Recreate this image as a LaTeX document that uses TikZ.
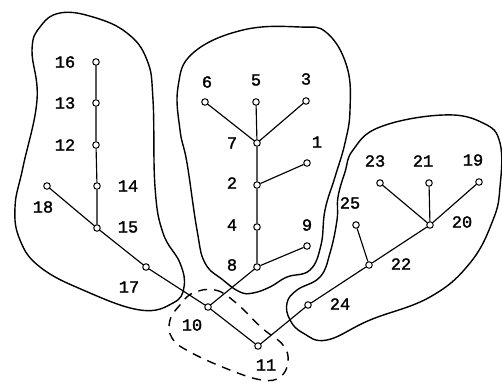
\documentclass[tikz,border=0pt]{standalone}
\usepackage{fontspec}
\setmonofont[FakeBold=1.6]{Liberation Mono}
\begin{document}
\begin{tikzpicture}[x=1pt,y=-1pt,
  v/.style={circle,draw,fill=white,inner sep=0pt,minimum size=6.5pt,line width=1pt},
  lab/.style={font=\ttfamily\fontsize{17}{17}\selectfont,inner sep=0pt},
  edge/.style={line width=1.15pt},
  blob/.style={line width=1.4pt},
  dblob/.style={line width=1.4pt,dash pattern=on 9pt off 7pt}]
\useasboundingbox (0,0) rectangle (502,382);
% blobs
\draw[blob] plot[smooth cycle,tension=0.7] coordinates {(60,13) (93,17) (127,33) (147,60) (153,100) (155,187) (163,233) (180,263) (184,287) (173,303) (140,310) (83,290) (40,267) (20,240) (15,207) (23,167) (37,100) (32,50) (40,27)};
\draw[blob] plot[smooth cycle,tension=0.7] coordinates {(178,87) (193,53) (243,30) (300,27) (327,33) (347,67) (350,110) (345,143) (335,177) (325,210) (321,245) (310,270) (287,277) (270,287) (253,293) (240,292) (223,280) (205,263) (197,230) (187,163) (180,130)};
\draw[blob] plot[smooth cycle,tension=0.7] coordinates {(353,150) (380,127) (443,115) (483,123) (500,143) (500,187) (493,220) (470,263) (430,297) (370,320) (327,340) (303,333) (290,320) (287,303) (297,290) (320,277) (330,253) (337,220) (338,197) (345,172)};
\draw[dblob] plot[smooth cycle,tension=0.7] coordinates {(193,293) (215,290) (235,302) (262,328) (283,345) (288,362) (280,377) (262,380) (230,370) (190,352) (172,338) (170,320) (180,305)};
% vertices
\node[v] (n16) at (96,62) {};
\node[v] (n13) at (96,103) {};
\node[v] (n12) at (96,145) {};
\node[v] (n14) at (97,186) {};
\node[v] (n15) at (97,228) {};
\node[v] (n18) at (47,186) {};
\node[v] (n17) at (146,267) {};
\node[v] (n10) at (208,307) {};
\node[v] (n11) at (258,346) {};
\node[v] (n6) at (205,102) {};
\node[v] (n5) at (256,102) {};
\node[v] (n3) at (306,101) {};
\node[v] (n7) at (257,143) {};
\node[v] (n1) at (307,163) {};
\node[v] (n2) at (257,185) {};
\node[v] (n4) at (257,227) {};
\node[v] (n9) at (307,246) {};
\node[v] (n8) at (257,267) {};
\node[v] (n23) at (380,183) {};
\node[v] (n21) at (429,183) {};
\node[v] (n19) at (479,182) {};
\node[v] (n20) at (430,225) {};
\node[v] (n25) at (356,225) {};
\node[v] (n22) at (369,265) {};
\node[v] (n24) at (308,305) {};
% edges
\draw[edge] (n16)--(n13) (n13)--(n12) (n12)--(n14) (n14)--(n15);
\draw[edge] (n18)--(n15) (n15)--(n17) (n17)--(n10);
\draw[edge] (n6)--(n7) (n5)--(n7) (n3)--(n7) (n7)--(n2) (n2)--(n1) (n2)--(n4) (n4)--(n8) (n8)--(n9) (n8)--(n10);
\draw[edge] (n10)--(n11) (n11)--(n24) (n24)--(n22) (n22)--(n20) (n25)--(n22);
\draw[edge] (n23)--(n20) (n21)--(n20) (n19)--(n20);
% labels
\node[lab] (l16) at (65,62) {16};
\node[lab] (l13) at (65,103) {13};
\node[lab] (l12) at (65,145) {12};
\node[lab] (l14) at (128,186) {14};
\node[lab] (l15) at (128,227) {15};
\node[lab] (l18) at (43,207) {18};
\node[lab] (l17) at (129,287) {17};
\node[lab] (l10) at (192,325) {10};
\node[lab] (l11) at (266,365) {11};
\node[lab] (l6) at (207,82) {6};
\node[lab] (l5) at (256,80) {5};
\node[lab] (l3) at (306,79) {3};
\node[lab] (l7) at (232,143) {7};
\node[lab] (l1) at (317,142) {1};
\node[lab] (l2) at (232,183) {2};
\node[lab] (l4) at (232,225) {4};
\node[lab] (l9) at (307,225) {9};
\node[lab] (l8) at (232,265) {8};
\node[lab] (l23) at (375,161) {23};
\node[lab] (l21) at (423,161) {21};
\node[lab] (l19) at (473,160) {19};
\node[lab] (l20) at (462,222) {20};
\node[lab] (l25) at (350,203) {25};
\node[lab] (l22) at (401,264) {22};
\node[lab] (l24) at (340,304) {24};
\end{tikzpicture}
\end{document}
